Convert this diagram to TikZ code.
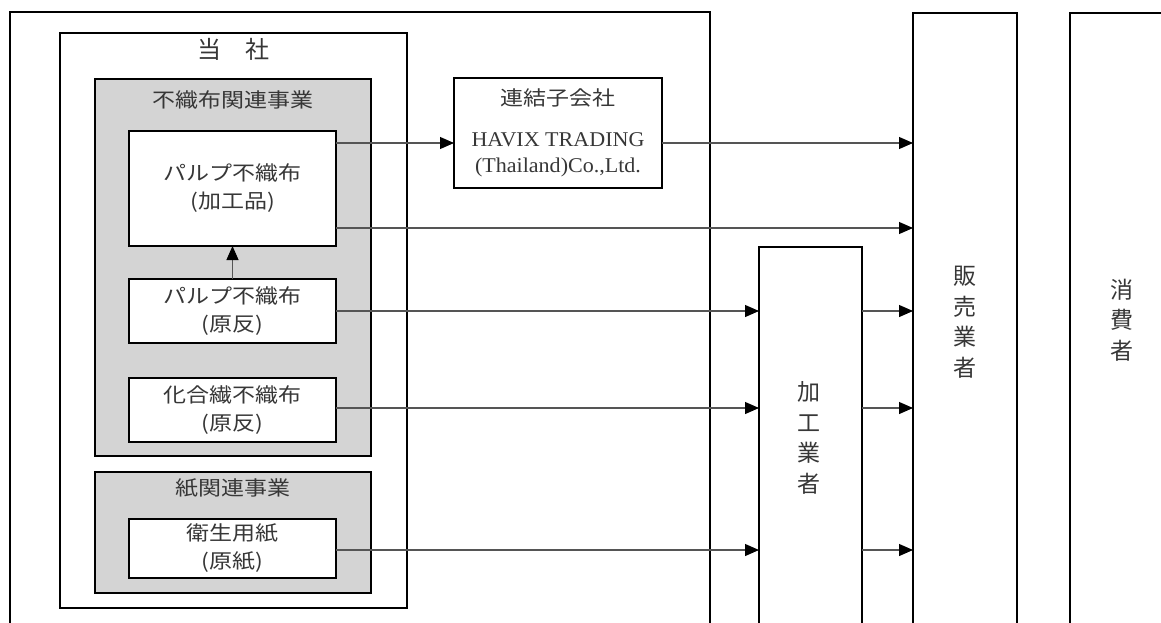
\documentclass[tikz,border=0pt]{standalone}
\usepackage{fontspec}
\newfontfamily\jp[FakeStretch=1.15]{Noto Sans CJK JP}
\newfontfamily\jpv{Noto Sans CJK JP}
\newfontfamily\tnr[FakeStretch=1.05]{Liberation Serif}
\usetikzlibrary{arrows.meta}
\definecolor{boxgray}{RGB}{212,212,212}
\definecolor{txt}{RGB}{55,55,55}
\definecolor{ln}{RGB}{85,85,85}
\begin{document}
\begin{tikzpicture}[x=1pt,y=-1pt,
  frame/.style={draw=black,line width=2.2pt,inner sep=0pt,outer sep=0pt,anchor=north west},
  gframe/.style={frame,fill=boxgray},
  wframe/.style={frame,fill=white,text=txt,font=\jp\fontsize{20pt}{28pt}\selectfont,align=center},
  vframe/.style={draw=black,line width=1.8pt,inner sep=0pt,outer sep=0pt,anchor=north west,fill=white},
  lbl/.style={text=txt,font=\jp\fontsize{20pt}{28pt}\selectfont,inner sep=0pt},
  vlbl/.style={text=txt,font=\jpv\fontsize{23pt}{30.5pt}\selectfont,align=center,inner sep=0pt},
  elbl/.style={text=txt,font=\tnr\fontsize{21pt}{24pt}\selectfont,inner sep=0pt},
  arr/.style={draw=ln,line width=1.1pt,-{Triangle[length=14pt,width=12pt,color=black]}},
  ln/.style={draw=ln,line width=1.1pt}]
\useasboundingbox (0,0) rectangle (1161,622);
\clip (0,0) rectangle (1161,622);
% outer frames
\node[frame,minimum width=700pt,minimum height=660pt] (outer) at (10,12) {};
\node[frame,minimum width=347pt,minimum height=575pt] (tosha) at (60,33) {};
\node[lbl,font=\jpv\fontsize{24pt}{26pt}\selectfont] (toshaL) at (233.5,49) {当\hspace{1em}社};
% nonwoven group
\node[gframe,minimum width=276pt,minimum height=377pt] (fushoku) at (95,79) {};
\node[lbl] (fushokuL) at (233,100) {不織布関連事業};
\node[wframe,minimum width=207pt,minimum height=115pt] (pk) at (129,131) {パルプ不織布\\(加工品)};
\node[wframe,minimum width=207pt,minimum height=64pt] (pr) at (129,279) {パルプ不織布\\(原反)};
\node[wframe,minimum width=207pt,minimum height=64pt] (kg) at (129,378) {化合繊不織布\\(原反)};
% paper group
\node[gframe,minimum width=276pt,minimum height=121pt] (kami) at (95,472) {};
\node[lbl] (kamiL) at (233,488) {紙関連事業};
\node[wframe,minimum width=207pt,minimum height=59pt] (ei) at (129,519) {衛生用紙\\(原紙)};
% subsidiary
\node[frame,fill=white,minimum width=208pt,minimum height=110pt] (ren) at (454,78) {};
\node[lbl] (renL) at (558,98) {連結子会社};
\node[elbl] (renH) at (558,140) {HAVIX TRADING};
\node[elbl] (renT) at (558,167) {(Thailand)Co.,Ltd.};
% right columns
\node[vframe,minimum width=103pt,minimum height=420pt] (kako) at (759,247) {};
\node[vlbl] (kakoL) at (809,438) {加\\工\\業\\者};
\node[vframe,minimum width=104pt,minimum height=660pt] (han) at (913,13) {};
\node[vlbl] (hanL) at (965,322) {販\\売\\業\\者};
\node[vframe,minimum width=150pt,minimum height=660pt] (sho) at (1070,13) {};
\node[vlbl] (shoL) at (1122,320) {消\\費\\者};
% connectors
\draw[arr] (pr.north) -- (pk.south);
\draw[arr] ([yshift=-12pt]pk.north east) coordinate (a1) -- (a1 -| ren.west);
\draw[arr] (a1 -| ren.east) -- (a1 -| han.west);
\draw[arr] ([yshift=18pt]pk.south east) coordinate (a2) -- (a2 -| han.west);
\draw[arr] (pr.east) -- (pr.east -| kako.west);
\draw[arr] (pr.east -| kako.east) -- (pr.east -| han.west);
\draw[arr] ([yshift=2pt]kg.east) coordinate (a3) -- (a3 -| kako.west);
\draw[arr] (a3 -| kako.east) -- (a3 -| han.west);
\draw[arr] ([yshift=-1.5pt]ei.east) coordinate (a4) -- (a4 -| kako.west);
\draw[arr] (a4 -| kako.east) -- (a4 -| han.west);
\end{tikzpicture}
\end{document}
